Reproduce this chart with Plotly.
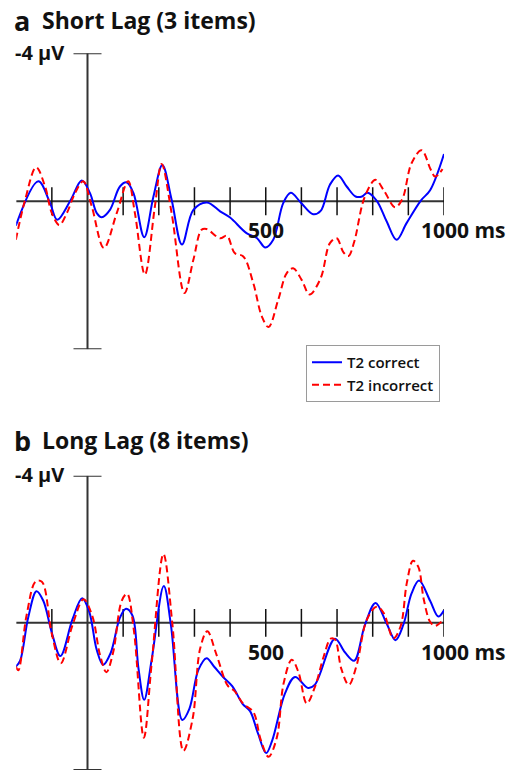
import plotly.graph_objects as go

W, H = 513, 770

# ---------------- data (time in ms, amplitude in µV; negative plotted up) ----------------
a_correct_t = [-201,-138,-105,-85,-49,-16,7,26,40,63,91,110,129,159,185,210,236,265,297,335,372,400,446,475,499,521,549,570,598,633,654,680,703,727,752,770,785,811,839,867,895,935,961,1000]
a_correct_v = [0.66,-0.54,0.05,0.5,0,-0.56,-0.22,0.32,0.43,0.23,-0.4,-0.51,-0.22,0.97,-0.13,-0.98,-0.04,1.17,0.23,0.03,0.27,0.44,0.86,0.99,1.25,1.04,0.05,-0.23,0.03,0.35,0.26,-0.45,-0.7,-0.4,-0.13,-0.13,-0.23,-0.02,0.54,1.04,0.59,-0.02,-0.3,-1.28]

a_incorrect_t = [-201,-175,-144,-119,-100,-79,-58,-35,-12,12,46,82,114,133,161,189,208,236,272,297,320,334,372,391,413,437,465,489,508,535,559,577,601,623,654,680,699,718,732,748,778,808,832,863,883,909,937,963,975,996]
a_incorrect_v = [1.04,-0.04,-0.92,-0.4,0.32,0.64,0.32,-0.22,-0.54,0.14,1.26,0.32,-0.54,0.32,1.98,0.14,-1.01,0.32,2.48,1.58,0.77,0.75,1.0,0.93,1.4,1.49,2.21,3.11,3.4,2.66,1.94,1.81,2.13,2.52,2.08,1.13,1.0,1.38,1.48,1.1,-0.13,-0.58,-0.28,0.16,-0.06,-1.03,-1.38,-0.85,-0.67,-0.87]

b_correct_t = [-201,-189,-166,-143,-124,-100,-76,-42,-15,5,26,44,65,91,108,126,143,159,180,214,234,266,286,311,334,356,381,406,435,456,478,501,518,554,582,619,638,694,722,748,778,808,839,864,886,909,930,961,984,1000]
b_correct_v = [1.19,1.03,-0.16,-0.86,-0.6,0.27,0.9,-0.1,-0.67,-0.3,0.74,1.14,0.82,-0.14,-0.38,-0.2,1.24,2.09,1.0,-1.0,0.06,2.64,2.33,1.28,0.96,1.2,1.48,1.72,2.2,2.4,3.0,3.54,3.2,1.92,1.47,1.77,1.68,0.43,0.8,1.03,0.06,-0.54,0.02,0.47,0.05,-0.8,-1.15,-0.6,-0.17,-0.34]

b_incorrect_t = [-201,-194,-171,-145,-128,-100,-75,-42,-11,14,35,53,72,96,111,130,158,180,213,238,269,295,316,336,362,393,412,437,465,486,508,531,550,573,592,615,638,663,682,694,712,733,755,783,811,830,858,878,896,913,928,943,961,975,998]
b_incorrect_v = [1.19,1.29,-0.2,-1.13,-1.12,0.3,1.1,0.06,-0.64,-0.17,0.87,1.34,0.8,-0.6,-0.79,0.2,3.12,1.1,-1.87,0.02,3.48,2.6,0.7,0.23,0.87,1.7,1.85,2.2,2.42,3.18,3.64,3.12,1.65,1.0,1.35,2.19,1.74,0.9,0.43,0.45,1.25,1.69,1.15,-0.07,-0.44,-0.28,0.42,0.1,-1.1,-1.69,-1.52,-0.65,-0.03,0.08,-0.08]

x_ticks = [-100, 100, 200, 300, 400, 500, 600, 700, 800, 900, 1000]
x_labels = {500: "500", 1000: "1000 ms"}
y_label = "-4 µV"
series_names = ["T2 correct", "T2 incorrect"]
panel_letters = ["a", "b"]
panel_titles = ["Short Lag (3 items)", "Long Lag (8 items)"]

BLUE = "#0000ff"
RED = "#ff0000"
AXC = "#333333"
TXT = "#111111"
FONT = "Open Sans"

def px_x(p):
    return p / W

def px_y(p):
    return 1 - p / H

fig = go.Figure()

panels = [
    ("x", "y", a_correct_t, a_correct_v, a_incorrect_t, a_incorrect_v, True),
    ("x2", "y2", b_correct_t, b_correct_v, b_incorrect_t, b_incorrect_v, False),
]
for xr, yr, ct, cv, it, iv, show in panels:
    fig.add_trace(go.Scatter(x=ct, y=cv, mode="lines", name=series_names[0],
                             line=dict(color=BLUE, width=2, shape="spline", smoothing=1.0),
                             xaxis=xr, yaxis=yr, showlegend=show))
    fig.add_trace(go.Scatter(x=it, y=iv, mode="lines", name=series_names[1],
                             line=dict(color=RED, width=2, dash="7px,4px", shape="spline", smoothing=1.0),
                             xaxis=xr, yaxis=yr, showlegend=show))

xdom = [px_x(16.2), px_x(444)]
ax_common = dict(showgrid=False, zeroline=False, showticklabels=False, showline=False, ticks="")
fig.update_layout(
    xaxis=dict(domain=xdom, range=[-200, 1000], anchor="y", **ax_common),
    yaxis=dict(domain=[px_y(349.3), px_y(53.3)], range=[4, -4], anchor="x", **ax_common),
    xaxis2=dict(domain=xdom, range=[-200, 1000], anchor="y2", **ax_common),
    yaxis2=dict(domain=[0, px_y(475.7)], range=[4.0, -4], anchor="x2", **ax_common),
)

shapes = []
annotations = []
tick_h = 14 / 37.0
cap_w = 14 / 0.3565
for i, (xr, yr) in enumerate([("x", "y"), ("x2", "y2")]):
    line = dict(color=AXC, width=2)
    shapes.append(dict(type="line", xref=xr, yref=yr, x0=-200, x1=1000, y0=0, y1=0, line=line, layer="below"))
    shapes.append(dict(type="line", xref=xr, yref=yr, x0=0, x1=0, y0=-4, y1=4, line=line, layer="below"))
    for yv in (-4, 4):
        shapes.append(dict(type="line", xref=xr, yref=yr, x0=-cap_w, x1=cap_w, y0=yv, y1=yv, line=line, layer="below"))
    for t in x_ticks:
        shapes.append(dict(type="line", xref=xr, yref=yr, x0=t, x1=t, y0=-tick_h, y1=tick_h,
                           line=dict(color=TXT, width=1.5), layer="below"))
    for t, lab in x_labels.items():
        if t == 1000:
            annotations.append(dict(x=t, y=0, xref=xr, yref=yr, text="<b>%s</b>" % lab, showarrow=False,
                                    xanchor="left", yanchor="middle", xshift=-25, yshift=-29,
                                    font=dict(family=FONT, size=21, color=TXT)))
        else:
            annotations.append(dict(x=t, y=0, xref=xr, yref=yr, text="<b>%s</b>" % lab, showarrow=False,
                                    xanchor="center", yanchor="middle", yshift=-29,
                                    font=dict(family=FONT, size=21, color=TXT)))
    annotations.append(dict(x=-200, y=-4, xref=xr, yref=yr, text="<b>%s</b>" % y_label, showarrow=False,
                            xanchor="left", yanchor="middle", xshift=-3, yshift=1,
                            font=dict(family=FONT, size=20, color=TXT)))

title_y = [20, 440]
for i in range(2):
    annotations.append(dict(x=px_x(12), y=px_y(title_y[i]), xref="paper", yref="paper",
                            text="<b>%s</b>" % panel_letters[i], showarrow=False,
                            xanchor="left", yanchor="middle",
                            font=dict(family=FONT, size=27, color=TXT)))
    annotations.append(dict(x=px_x(40), y=px_y(title_y[i]), xref="paper", yref="paper",
                            text="<b>%s</b>" % panel_titles[i], showarrow=False,
                            xanchor="left", yanchor="middle",
                            font=dict(family=FONT, size=23, color=TXT)))

fig.update_layout(
    width=W, height=H, autosize=False,
    margin=dict(l=0, r=0, t=0, b=0),
    paper_bgcolor="white", plot_bgcolor="white",
    shapes=shapes, annotations=annotations,
    legend=dict(x=px_x(306), y=px_y(345), xanchor="left", yanchor="top",
                bordercolor="#9a9a9a", borderwidth=1, bgcolor="white",
                font=dict(family=FONT, size=15, color=TXT, weight=600),
                itemwidth=30, tracegroupgap=0),
    showlegend=True,
)

fig.write_html("out.html", config={"displayModeBar": False},
               post_script="document.body.style.margin='0px';document.body.style.overflow='hidden';")
